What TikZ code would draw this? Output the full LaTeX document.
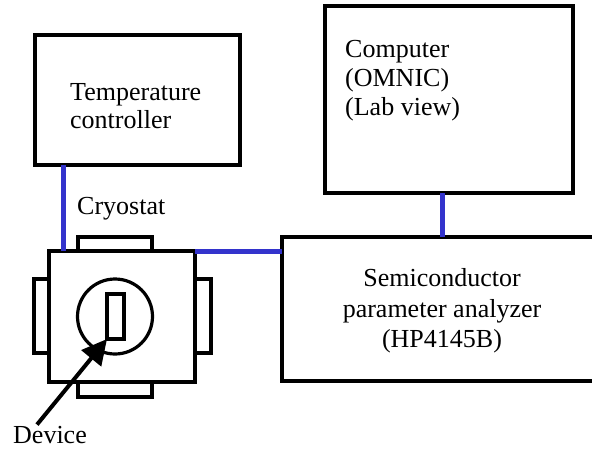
\documentclass[tikz,border=0pt]{standalone}
\usepackage{fontspec}
\setmainfont{Liberation Serif}
\usetikzlibrary{arrows.meta}
\definecolor{linkblue}{RGB}{51,51,204}
\begin{document}
\begin{tikzpicture}[x=1pt,y=-1pt,
  box/.style={draw=black,line width=4pt,fill=white,inner sep=0pt,outer sep=0pt},
  part/.style={draw=black,line width=3.2pt,fill=white},
  link/.style={draw=linkblue,line width=5pt},
  lbl/.style={font=\fontsize{26}{30}\selectfont,inner sep=0pt,anchor=base west},
  clbl/.style={font=\fontsize{26}{30}\selectfont,inner sep=0pt,anchor=base}]
\useasboundingbox (0,0) rectangle (592,448);
\clip (0,0) rectangle (592,448);
% boxes
\node[box,minimum width=205pt,minimum height=130pt] (tc) at (137.5,100) {};
\node[box,minimum width=248pt,minimum height=187pt] (comp) at (449,99.5) {};
\node[box,minimum width=320pt,minimum height=144pt] (ana) at (442,309) {};
% cryostat
\draw[part] (78,237) rectangle (152,251);
\draw[part] (78,382) rectangle (152,397);
\draw[part] (34,279) rectangle (49,353);
\draw[part] (195,279) rectangle (211,353);
\node[part,inner sep=0pt,outer sep=0pt,minimum width=146pt,minimum height=131pt] (cry) at (122,316.5) {};
\draw[part] (115,316.5) circle (37.5);
\node[part,inner sep=0pt,outer sep=0pt,minimum width=17pt,minimum height=45pt] (dev) at (115.5,316.5) {};
% connectors
\coordinate (tcdown) at (63,165);
\coordinate (cryup) at (63,251);
\draw[link] (tcdown) -- (cryup);
\draw[link] (cry.north east) -- (ana.west |- cry.north east);
\draw[link] (ana.north |- comp.south) -- (ana.north);
% texts
\node[lbl] (t1) at (70,100) {Temperature};
\node[lbl] (t2) at (70,128) {controller};
\node[lbl] (c1) at (345,57) {Computer};
\node[lbl] (c2) at (345,86) {(OMNIC)};
\node[lbl] (c3) at (345,115) {(Lab view)};
\node[clbl] (a1) at (442,286) {Semiconductor};
\node[clbl] (a2) at (442,317) {parameter analyzer};
\node[clbl] (a3) at (442,347) {(HP4145B)};
\node[lbl] (cl) at (77,214) {Cryostat};
\node[lbl] (dl) at (13,443) {Device};
% arrow
\draw[line width=4pt,-{Triangle[length=25pt,width=25pt]}] (dl.north west) ++(24,-1) coordinate (dstart) -- (dev.south west);
\end{tikzpicture}
\end{document}
